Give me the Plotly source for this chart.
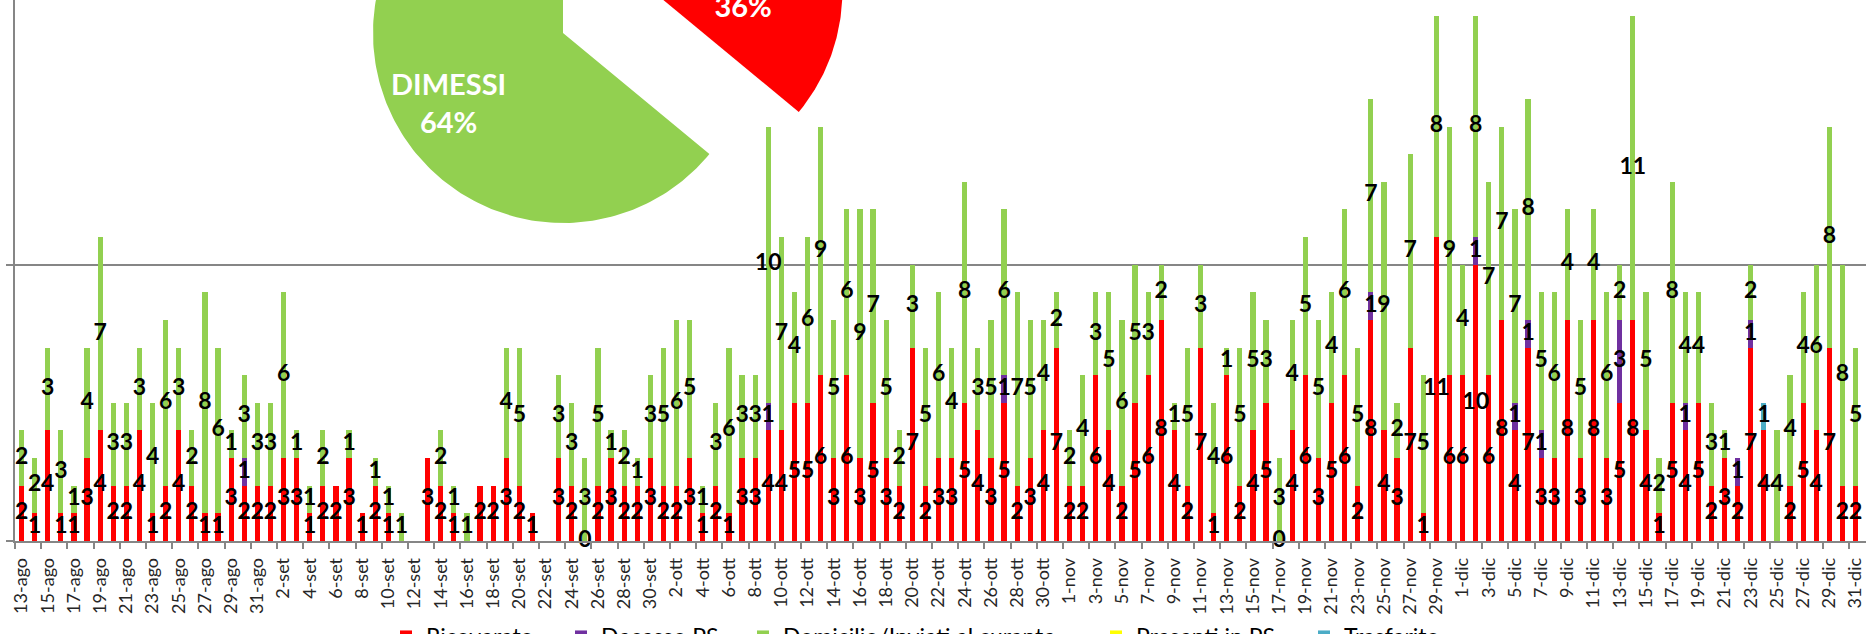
import math
import plotly.graph_objects as go

# ---------------- categories ----------------
months = [("ago", 13, 31), ("set", 1, 30), ("ott", 1, 31), ("nov", 1, 30), ("dic", 1, 31), ("gen", 1, 1)]
dates = [f"{d}-{m}" for m, d0, d1 in months for d in range(d0, d1 + 1)]

# ---------------- series (one value per day, None = no entry) ----------------
ricoverato = [2, 1, 4, 1, 1, 3, 4, 2, 2, 4,
              1, 2, 4, 2, 1, 1, 3, 2, 2, 2,
              3, 3, 1, 2, 2, 3, 1, 2, 1, None,
              None, 3, 2, 1, None, 2, 2, 3, 2, 1,
              None, 3, 2, 0, 2, 3, 2, 2, 3, 2,
              2, 3, 1, 2, 1, 3, 3, 4, 4, 5,
              5, 6, 3, 6, 3, 5, 3, 2, 7, 2,
              3, 3, 5, 4, 3, 5, 2, 3, 4, 7,
              2, 2, 6, 4, 2, 5, 6, 8, 4, 2,
              7, 1, 6, 2, 4, 5, 0, 4, 6, 3,
              5, 6, 2, 8, 4, 3, 7, 1, 11, 6,
              6, 10, 6, 8, 4, 7, 3, 3, 8, 3,
              8, 3, 5, 8, 4, 1, 5, 4, 5, 2,
              3, 2, 7, 4, None, 2, 5, 4, 7, 2,
              2, 5]
decesso_ps = [None] * 142
for _i, _v in [(17, 1), (57, 1), (75, 1), (103, 1), (111, 1), (114, 1), (115, 1),
               (116, 1), (122, 3), (127, 1), (131, 1), (132, 1)]:
    decesso_ps[_i] = _v
domicilio = [2, 2, 3, 3, 1, 4, 7, 3, 3, 3,
             4, 6, 3, 2, 8, 6, 1, 3, 3, 3,
             6, 1, 1, 2, None, 1, None, 1, 1, 1,
             None, None, 2, 1, 1, None, None, 4, 5, None,
             None, 3, 3, 3, 5, 1, 2, 1, 3, 5,
             6, 5, 1, 3, 6, 3, 3, 10, 7, 4,
             6, 9, 5, 6, 9, 7, 5, 2, 3, 5,
             6, 4, 8, 3, 5, 6, 7, 5, 4, 2,
             2, 4, 3, 5, 6, 5, 3, 2, 1, 5,
             3, 4, 1, 5, 5, 3, 3, 4, 5, 5,
             4, 6, 5, 7, 9, 2, 7, 5, 8, 9,
             4, 8, 7, 7, 7, 8, 5, 6, 4, 5,
             4, 6, 2, 11, 5, 2, 8, 4, 4, 3,
             1, None, 2, None, 4, 4, 4, 6, 8, 8,
             5, 2]
presenti_ps = [None] * 142
trasferito = [None] * 142
trasferito[133] = 1

series_names = ["Ricoverato", "Decesso PS", "Domicilio/Inviati al curante", "Presenti in PS", "Trasferito"]
series_values = [ricoverato, decesso_ps, domicilio, presenti_ps, trasferito]
series_colors = ["#FF0000", "#7030A0", "#92D050", "#FFFF00", "#4BACC6"]

# pie (overlaid summary)
pie_labels = ["RICOVERATI", "DIMESSI"]
pie_values = [36, 64]
pie_colors = ["#FF0000", "#92D050"]
pie_pull = [0.52, 0.0]

# ---------------- geometry / style constants ----------------
W, H = 1866, 634
ML, MB = 15, 93
PLOT_W, PLOT_H = W - ML, H - MB
CAT_W = 13.1            # px per category
UNIT = 27.63            # px per count
FONT = "Lato"
idx = list(range(len(dates)))

fig = go.Figure()

# stacked bars
legend_ids = ["legend", "legend2", "legend3", "legend4", "legend5"]
for name, vals, col, lg in zip(series_names, series_values, series_colors, legend_ids):
    fig.add_trace(go.Bar(
        x=idx, y=vals, name=name,
        marker=dict(color=col, line=dict(width=0)), width=0.4,
        legend=lg, hoverinfo="skip"))

# data labels (centre of each segment)
base = [0.0] * len(dates)
for name, vals in zip(series_names, series_values):
    lx, ly, lt = [], [], []
    for i, v in enumerate(vals):
        if v is None:
            continue
        lx.append(i)
        ly.append(base[i] + v / 2.0)
        lt.append(str(v))
        base[i] += v
    if lx:
        fig.add_trace(go.Scatter(
            x=lx, y=ly, text=lt, mode="text", textposition="middle center",
            textfont=dict(family=FONT, size=23, color="black", weight="bold"),
            showlegend=False, hoverinfo="skip", cliponaxis=False))

# exploded pie drawn on a pixel overlay axis
pie_cx, pie_cy, pie_r = 563, 33, 190
total = sum(pie_values)
cum = 0.0
for lab, val, col, pull in zip(pie_labels, pie_values, pie_colors, pie_pull):
    a0 = cum / total * 2 * math.pi
    a1 = (cum + val) / total * 2 * math.pi
    am = (a0 + a1) / 2
    cx = pie_cx + pull * pie_r * math.sin(am)
    cy = pie_cy - pull * pie_r * math.cos(am)
    n = 200
    xs = [cx] + [cx + pie_r * math.sin(a0 + (a1 - a0) * k / n) for k in range(n + 1)] + [cx]
    ys = [cy] + [cy - pie_r * math.cos(a0 + (a1 - a0) * k / n) for k in range(n + 1)] + [cy]
    fig.add_trace(go.Scatter(x=xs, y=ys, mode="lines", fill="toself", fillcolor=col,
                             line=dict(width=0, color=col), xaxis="x2", yaxis="y2",
                             showlegend=False, hoverinfo="skip"))
    cum += val

# pie labels, positioned in figure pixels and converted to paper coordinates
pie_text_pos = {"RICOVERATI": (743, -13), "DIMESSI": (448, 102)}
annotations = []
for lab, val in zip(pie_labels, pie_values):
    px, py = pie_text_pos[lab]
    annotations.append(dict(x=(px - ML) / PLOT_W, y=(PLOT_H - py) / PLOT_H, xref="paper", yref="paper",
                            text=f"{lab}<br>{val}%", showarrow=False,
                            font=dict(family=FONT, size=29, color="white", weight="bold"),
                            align="center", xanchor="center", yanchor="middle"))

# legends (one per series so each entry sits where it does in the original)
legend_px = [386, 561, 743, 1096, 1304]
legend_top_px = 615
legend_layout = {}
for lg, px in zip(legend_ids, legend_px):
    legend_layout[lg] = dict(x=(px - ML) / PLOT_W, xanchor="left",
                             y=(PLOT_H - legend_top_px) / PLOT_H, yanchor="top",
                             orientation="h", bgcolor="rgba(0,0,0,0)", borderwidth=0,
                             font=dict(family=FONT, size=23, color="black"))

x_min = -0.5
x_max = x_min + PLOT_W / CAT_W
y_max = PLOT_H / UNIT

fig.update_layout(
    width=W, height=H, margin=dict(l=ML, r=0, t=0, b=MB, pad=0, autoexpand=False),
    paper_bgcolor="white", plot_bgcolor="white",
    barmode="stack", showlegend=True,
    font=dict(family=FONT, color="#262626"),
    annotations=annotations,
    xaxis=dict(range=[x_min, x_max], tickmode="array", tickvals=idx[::2], ticktext=dates[::2],
               tickangle=-90, ticks="", ticklabelstandoff=8, tickfont=dict(family=FONT, size=18, color="#262626"),
               showline=True, linecolor="#868686", linewidth=1.5, showgrid=False, zeroline=False,
               minor=dict(tickmode="array", tickvals=[i - 0.5 for i in idx[::2]], ticks="outside",
                          ticklen=6, tickcolor="#868686", tickwidth=1.5, showgrid=False)),
    yaxis=dict(range=[0, y_max], dtick=10, tick0=0, showticklabels=False, ticks="outside", ticklen=7,
               tickcolor="#868686", tickwidth=1.5, showline=True, linecolor="#868686", linewidth=1.5,
               showgrid=True, gridcolor="#868686", gridwidth=1.5, zeroline=False),
    xaxis2=dict(overlaying="x", anchor="y2", range=[ML, W], visible=False, fixedrange=True),
    yaxis2=dict(overlaying="y", anchor="x2", range=[PLOT_H, 0], visible=False, fixedrange=True),
    **legend_layout,
)

fig.write_html("out.html", config={"displayModeBar": False},
               post_script="document.body.style.margin='0';document.body.style.overflow='hidden';")
